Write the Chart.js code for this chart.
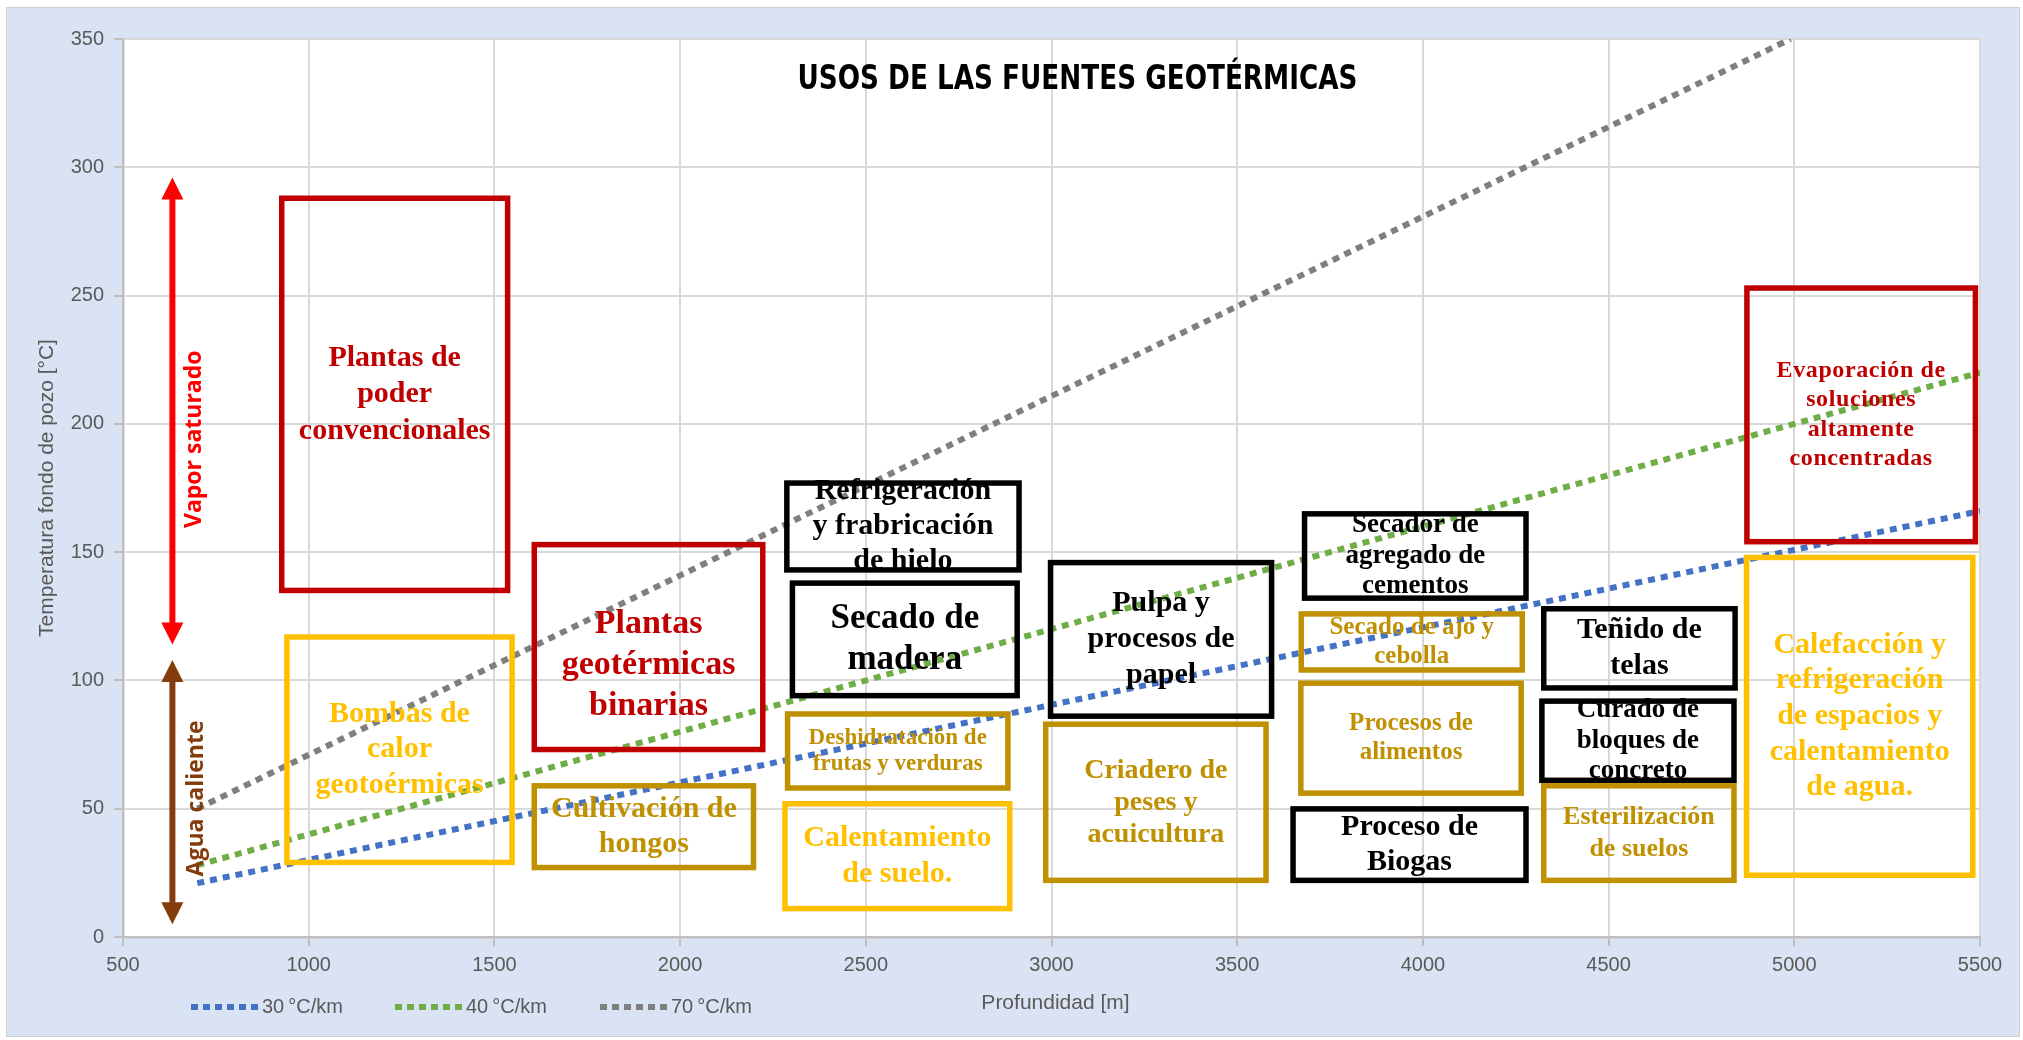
<!DOCTYPE html>
<html>
<head>
<meta charset="utf-8">
<script src="https://cdn.jsdelivr.net/npm/chart.js@4.4.0/dist/chart.umd.min.js"></script>
<style>
  html, body { margin: 0; padding: 0; background: #fff; }
</style>
</head>
<body>
<canvas id="myChart" width="2023" height="1040"></canvas>
<script>
// Gradientes geotérmicos: profundidad [m] y temperatura [°C]
var seriesLabels = ["30\u202F°C/km", "40\u202F°C/km", "70\u202F°C/km"];
var depth30 = [700, 5500];
var temp30 = [21, 166];
var depth40 = [700, 5500];
var temp40 = [28, 220];
var depth70 = [700, 4990];
var temp70 = [50, 350];

// ejes
var xTicks = [500, 1000, 1500, 2000, 2500, 3000, 3500, 4000, 4500, 5000, 5500];
var yTicks = [0, 50, 100, 150, 200, 250, 300, 350];

// usos: nombre, rango de profundidad y rango de temperatura
var usoNames = [
  "Plantas de\npoder\nconvencionales",
  "Bombas de\ncalor\ngeotoérmicas",
  "Plantas\ngeotérmicas\nbinarias",
  "Cultivación de\nhongos",
  "Refrigeración\ny frabricación\nde hielo",
  "Secado de\nmadera",
  "Deshidratación de\nfrutas y verduras",
  "Calentamiento\nde suelo.",
  "Pulpa y\nprocesos de\npapel",
  "Criadero de\npeses y\nacuicultura",
  "Secador de\nagregado de\ncementos",
  "Secado de ajo y\ncebolla",
  "Procesos de\nalimentos",
  "Proceso de\nBiogas",
  "Teñido de\ntelas",
  "Curado de\nbloques de\nconcreto",
  "Esterilización\nde suelos",
  "Calefacción y\nrefrigeración\nde espacios y\ncalentamiento\nde agua.",
  "Evaporación de\nsoluciones\naltamente\nconcentradas"
];
var usoDepth = [
  [920, 1543], [934, 1555], [1600, 2230], [1600, 2205], [2280, 2920],
  [2295, 2915], [2282, 2890], [2275, 2895], [2990, 3600], [2977, 3585],
  [3674, 4285], [3665, 4275], [3664, 4272], [3643, 4285], [4318, 4848],
  [4313, 4845], [4318, 4845], [4864, 5488], [4865, 5495]
];
var usoTemp = [
  [134, 289], [28, 118], [72, 154], [26, 60], [142, 178],
  [93, 139], [57, 88], [10, 53], [85, 147], [21, 84],
  [131, 166], [103, 127], [55, 100], [21, 51], [96, 129],
  [60, 93], [21, 60], [23, 149], [153, 254]
];

// flechas de fase
var arrowDepth = 633;
var vaporRange = [114, 296];
var aguaRange = [5, 108];

// estilos de los recuadros
var RED = "#C00000", YEL = "#FFC000", GOLD = "#BF9000", BLK = "#000000";
var usoStyle = [
  { c: RED, fs: 30, lh: 36.5 }, { c: YEL, fs: 30, lh: 35.5 }, { c: RED, fs: 34, lh: 41, dy: 18 },
  { c: GOLD, fs: 30, lh: 35 }, { c: BLK, fs: 30, lh: 35 }, { c: BLK, fs: 35, lh: 40.5 },
  { c: GOLD, fs: 23, lh: 26 }, { c: YEL, fs: 30, lh: 35.5 }, { c: BLK, fs: 30, lh: 36 },
  { c: GOLD, fs: 28, lh: 32 }, { c: BLK, fs: 27, lh: 30.5 }, { c: GOLD, fs: 25, lh: 29 },
  { c: GOLD, fs: 25, lh: 29 }, { c: BLK, fs: 30, lh: 35 }, { c: BLK, fs: 30, lh: 35.5 },
  { c: BLK, fs: 27, lh: 30.5 }, { c: GOLD, fs: 26, lh: 32 }, { c: YEL, fs: 30, lh: 35.6 },
  { c: RED, fs: 24, lh: 29.3, ls: 0.6 }
];

var lineColors = ["#4472C4", "#70AD47", "#7F7F7F"];
var AXIS_FONT = "'Liberation Sans', Arial, sans-serif";

function pts(d, t) {
  return d.map(function (v, i) { return { x: v, y: t[i] }; });
}

function drawArrow(ctx, x, yTop, yBot, color) {
  var hw = 11, hl = 22;
  ctx.strokeStyle = color;
  ctx.fillStyle = color;
  ctx.lineWidth = 6;
  ctx.setLineDash([]);
  ctx.beginPath();
  ctx.moveTo(x, yTop + hl - 2);
  ctx.lineTo(x, yBot - hl + 2);
  ctx.stroke();
  ctx.beginPath();
  ctx.moveTo(x, yTop); ctx.lineTo(x - hw, yTop + hl); ctx.lineTo(x + hw, yTop + hl);
  ctx.closePath(); ctx.fill();
  ctx.beginPath();
  ctx.moveTo(x, yBot); ctx.lineTo(x - hw, yBot - hl); ctx.lineTo(x + hw, yBot - hl);
  ctx.closePath(); ctx.fill();
}

var usosPlugin = {
  id: "usos",
  beforeDraw: function (chart) {
    var ctx = chart.ctx, a = chart.chartArea;
    ctx.save();
    ctx.fillStyle = "#ffffff";
    ctx.fillRect(0, 0, chart.width, chart.height);
    ctx.fillStyle = "#DAE3F3";
    ctx.fillRect(6, 7, 2014, 1030);
    ctx.strokeStyle = "#D0D0D0";
    ctx.lineWidth = 1;
    ctx.strokeRect(6.5, 7.5, 2013, 1029);
    ctx.fillStyle = "#ffffff";
    ctx.fillRect(a.left, a.top, a.right - a.left, a.bottom - a.top);
    ctx.restore();
  },
  afterDatasetsDraw: function (chart) {
    var ctx = chart.ctx, xs = chart.scales.x, ys = chart.scales.y, a = chart.chartArea;
    ctx.save();

    // textos de los usos
    usoNames.forEach(function (name, i) {
      var st = usoStyle[i];
      var l = xs.getPixelForValue(usoDepth[i][0]), r = xs.getPixelForValue(usoDepth[i][1]);
      var t = ys.getPixelForValue(usoTemp[i][1]), b = ys.getPixelForValue(usoTemp[i][0]);
      var lines = name.split("\n");
      ctx.font = "bold " + st.fs + "px 'Liberation Serif', 'Times New Roman', serif";
      ctx.letterSpacing = (st.ls || 0) + "px";
      ctx.fillStyle = st.c;
      ctx.textAlign = "center";
      ctx.textBaseline = "middle";
      var cy = (t + b) / 2 + (st.dy || 0);
      var y0 = cy - (lines.length - 1) * st.lh / 2;
      lines.forEach(function (ln, k) {
        ctx.fillText(ln, (l + r) / 2, y0 + k * st.lh);
      });
    });
    ctx.letterSpacing = "0px";

    // recuadros
    usoNames.forEach(function (name, i) {
      var st = usoStyle[i];
      var l = xs.getPixelForValue(usoDepth[i][0]), r = xs.getPixelForValue(usoDepth[i][1]);
      var t = ys.getPixelForValue(usoTemp[i][1]), b = ys.getPixelForValue(usoTemp[i][0]);
      ctx.strokeStyle = st.c;
      ctx.lineWidth = 5.5;
      ctx.strokeRect(l + 2.75, t + 2.75, r - l - 5.5, b - t - 5.5);
    });

    // flechas
    var ax = xs.getPixelForValue(arrowDepth);
    drawArrow(ctx, ax, ys.getPixelForValue(vaporRange[1]), ys.getPixelForValue(vaporRange[0]), "#FF0000");
    drawArrow(ctx, ax, ys.getPixelForValue(aguaRange[1]), ys.getPixelForValue(aguaRange[0]), "#843C0C");

    ctx.font = "bold 23px 'Open Sans', sans-serif";
    ctx.textAlign = "center";
    ctx.textBaseline = "middle";
    ctx.save();
    ctx.translate(xs.getPixelForValue(692), ys.getPixelForValue(194));
    ctx.rotate(-Math.PI / 2);
    ctx.fillStyle = "#FF0000";
    ctx.fillText("Vapor saturado", 0, 0);
    ctx.restore();
    ctx.save();
    ctx.translate(xs.getPixelForValue(697), ys.getPixelForValue(54));
    ctx.rotate(-Math.PI / 2);
    ctx.fillStyle = "#843C0C";
    ctx.fillText("Agua caliente", 0, 0);
    ctx.restore();

    // título (condensado como el original)
    ctx.save();
    ctx.fillStyle = "#000000";
    ctx.font = "bold 34px 'Liberation Sans Narrow', 'DejaVu Sans Condensed', sans-serif";
    var title = "USOS DE LAS FUENTES GEOTÉRMICAS";
    var tw = ctx.measureText(title).width;
    var k = Math.min(1, 560 / tw);
    ctx.translate((a.left + a.right) / 2 + 26, a.top + 41);
    ctx.scale(k, 1);
    ctx.fillText(title, 0, 0);
    ctx.restore();
    ctx.restore();
  },
  afterDraw: function (chart) {
    var ctx = chart.ctx, a = chart.chartArea;
    ctx.save();
    ctx.fillStyle = "#595959";
    ctx.font = "21px " + AXIS_FONT;
    ctx.textAlign = "center";
    ctx.textBaseline = "middle";
    ctx.fillText("Profundidad [m]", (a.left + a.right) / 2 + 4, 1003);
    ctx.save();
    ctx.translate(47, (a.top + a.bottom) / 2);
    ctx.rotate(-Math.PI / 2);
    ctx.fillText("Temperatura fondo de pozo [°C]", 0, 0);
    ctx.restore();

    // leyenda
    var lx = [191, 395, 600];
    ctx.font = "20px " + AXIS_FONT;
    ctx.textAlign = "left";
    seriesLabels.forEach(function (lab, i) {
      ctx.strokeStyle = lineColors[i];
      ctx.lineWidth = 6;
      ctx.setLineDash([7, 5]);
      ctx.beginPath();
      ctx.moveTo(lx[i], 1007);
      ctx.lineTo(lx[i] + 67, 1007);
      ctx.stroke();
      ctx.setLineDash([]);
      ctx.fillStyle = "#595959";
      ctx.fillText(lab, lx[i] + 71, 1007);
    });
    ctx.restore();
  }
};

var datasets = [
  { label: seriesLabels[0], data: pts(depth30, temp30), borderColor: lineColors[0] },
  { label: seriesLabels[1], data: pts(depth40, temp40), borderColor: lineColors[1] },
  { label: seriesLabels[2], data: pts(depth70, temp70), borderColor: lineColors[2] }
].map(function (ds) {
  ds.borderWidth = 6;
  ds.borderDash = [7, 6];
  ds.borderCapStyle = "butt";
  ds.pointRadius = 0;
  ds.fill = false;
  ds.showLine = true;
  return ds;
});

function plain(v) { return String(v); }

new Chart("myChart", {
  type: "scatter",
  data: { datasets: datasets },
  options: {
    responsive: false,
    animation: false,
    layout: { padding: { left: 0, right: 43, top: 39, bottom: 0 } },
    plugins: {
      legend: { display: false },
      title: { display: false },
      tooltip: { enabled: false }
    },
    scales: {
      x: {
        type: "linear",
        min: xTicks[0],
        max: xTicks[xTicks.length - 1],
        afterBuildTicks: function (s) { s.ticks = xTicks.map(function (v) { return { value: v }; }); },
        afterFit: function (s) { s.height = 103; },
        ticks: {
          color: "#595959", font: { size: 20, family: AXIS_FONT },
          padding: 7, maxRotation: 0, autoSkip: false, callback: plain
        },
        grid: { color: "#D9D9D9", lineWidth: 2, tickLength: 9, tickColor: "#BFBFBF", tickWidth: 2 },
        border: { color: "#BFBFBF", width: 2.5 }
      },
      y: {
        type: "linear",
        min: yTicks[0],
        max: yTicks[yTicks.length - 1],
        afterBuildTicks: function (s) { s.ticks = yTicks.map(function (v) { return { value: v }; }); },
        afterFit: function (s) { s.width = 123; },
        ticks: {
          color: "#595959", font: { size: 20, family: AXIS_FONT },
          padding: 10, autoSkip: false, callback: plain
        },
        grid: { color: "#D9D9D9", lineWidth: 2, tickLength: 9, tickColor: "#BFBFBF", tickWidth: 2 },
        border: { color: "#BFBFBF", width: 2.5 }
      }
    }
  },
  plugins: [usosPlugin]
});
</script>
</body>
</html>
